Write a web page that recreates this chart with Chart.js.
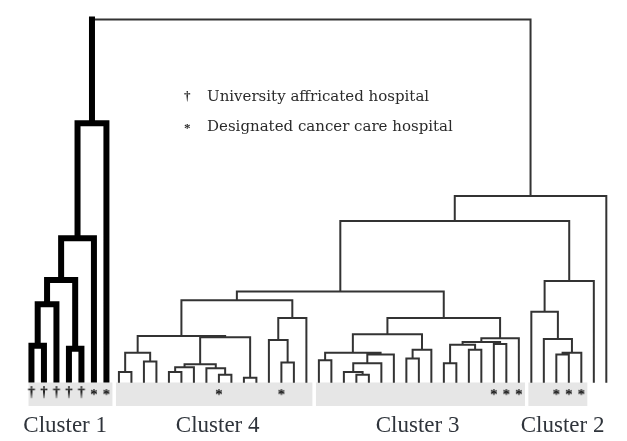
<!DOCTYPE html>
<html>
<head>
<meta charset="utf-8">
<script src="https://cdn.jsdelivr.net/npm/chart.js@4"></script>
<style>
  body { margin: 0; background: #fff; }
</style>
</head>
<body>
<canvas id="dendro" width="627" height="441"></canvas>
<script>
// leaves from left to right and the cluster each hospital ended up in
const leafCluster = [
  1,1,1,1,1,1,1,
  4,4,4,4,4,4,4,4,4,4,4,4,4,4,4,4,
  3,3,3,3,3,3,3,3,3,3,3,3,3,3,3,3,3,
  2,2,2,2,2,2,2
];

// merges, scipy style: ids 0-46 are leaves, 47+ are earlier merges
const mergeLeft   = [0,47,3,48,50,51, 7,9,53,11,56,15,14,57,17,60,55,20,19,65,63,
                     23,26,25,70,71,68,30,74,73,33,35,77,37,79,81,76,67, 42,85,41,40,88,84,90,52];
const mergeRight  = [1,2,4,49,5,6, 8,10,54,12,13,16,58,59,18,61,62,21,64,22,66,
                     24,27,69,28,29,72,31,32,75,34,36,78,38,80,39,82,83, 43,44,86,87,45,89,46,91];
const mergeHeight = [9.9,21.4,9.1,28.1,39.6,71.4, 2.7,5.6,8.0,2.7,4.0,1.9,3.7,4.8,1.1,12.3,12.6,5.3,11.5,17.6,22.5,
                     5.9,1.9,2.7,5.1,7.5,8.0,6.4,8.8,13.1,5.1,8.8,10.2,10.4,11.0,12.0,17.6,24.9, 7.5,8.0,11.8,19.3,27.8,44.4,51.3,100];

// marks under the leaves
const markerLeaf   = [0,1,2,3,4,5,6,15,20,37,38,39,42,43,44];
const markerSymbol = ['†','†','†','†','†','*','*','*','*','*','*','*','*','*','*'];

// grey bands with the cluster names
const clusterNames = ['Cluster 1','Cluster 4','Cluster 3','Cluster 2'];
const clusterFirst = [0,7,23,40];
const clusterLast  = [6,22,39,44];
const clusterLabelAt = [2.7,14.9,30.9,42.5];

const legendSymbols = ['†','*'];
const legendTexts   = ['University affricated hospital','Designated cancer care hospital'];

// work out x and height of every node
const nLeaves = leafCluster.length;
const nodeX = leafCluster.map((c, i) => i);
const nodeH = leafCluster.map(() => 0);
const nodeThick = leafCluster.map(c => c === 1);
const parentOf = [];
mergeLeft.forEach((l, k) => {
  const r = mergeRight[k], id = nLeaves + k;
  nodeX[id] = (nodeX[l] + nodeX[r]) / 2;
  nodeH[id] = mergeHeight[k];
  nodeThick[id] = nodeThick[l] && nodeThick[r];
  parentOf[l] = id;
  parentOf[r] = id;
});

// stems and crossbars, split by a null point
const thickPts = [], thinPts = [];
nodeX.forEach((x, id) => {
  const pts = nodeThick[id] ? thickPts : thinPts;
  if (parentOf[id] !== undefined) {
    const base = id < nLeaves && nodeThick[id] ? 0.6 : 0;
    pts.push({x: x, y: nodeH[id] + base}, {x: x, y: nodeH[parentOf[id]]}, {x: x, y: null});
  }
  if (id >= nLeaves) {
    const k = id - nLeaves;
    pts.push({x: nodeX[mergeLeft[k]], y: nodeH[id]}, {x: nodeX[mergeRight[k]], y: nodeH[id]}, {x: x, y: null});
  }
});

function glyph(ch) {
  const c = document.createElement('canvas');
  c.width = 12; c.height = 16;
  const g = c.getContext('2d');
  g.fillStyle = '#000';
  g.font = 'bold 15px "Liberation Serif"';
  g.textAlign = 'center';
  g.textBaseline = 'middle';
  g.fillText(ch, 6, ch === '*' ? 11 : 8);
  return c;
}

const bandSets = clusterFirst.map((f, i) => ({
  type: 'line',
  data: [{x: f - 0.25, y: -0.2}, {x: clusterLast[i] + 0.5, y: -0.2}],
  borderWidth: 0,
  pointRadius: 0,
  backgroundColor: '#e6e6e6',
  fill: {value: -6.7},
  order: 5
}));

const textPlugin = {
  id: 'texts',
  afterDraw(chart) {
    const ctx = chart.ctx, xs = chart.scales.x, ys = chart.scales.y;
    ctx.save();
    ctx.fillStyle = '#2f343b';
    ctx.font = '23px "Liberation Serif"';
    ctx.textAlign = 'center';
    ctx.textBaseline = 'alphabetic';
    clusterNames.forEach((name, i) => {
      ctx.fillText(name, xs.getPixelForValue(clusterLabelAt[i]), ys.getPixelForValue(-14.0));
    });
    ctx.fillStyle = '#2a2a2a';
    ctx.textAlign = 'left';
    ctx.textBaseline = 'middle';
    legendTexts.forEach((t, i) => {
      const y = 97 + i * 30;
      ctx.font = 'bold 13px "Liberation Serif"';
      ctx.fillText(legendSymbols[i], 184, y + (legendSymbols[i] === '*' ? 2 : 0));
      ctx.font = '15px "DejaVu Serif"';
      ctx.fillText(t, 207, y);
    });
    ctx.restore();
  }
};

new Chart(document.getElementById('dendro'), {
  type: 'line',
  data: {
    datasets: [
      {
        data: thickPts,
        borderColor: '#000',
        borderWidth: 6,
        borderCapStyle: 'square',
        borderJoinStyle: 'miter',
        pointRadius: 0,
        order: 1
      },
      {
        data: thinPts,
        borderColor: '#333',
        borderWidth: 2,
        borderCapStyle: 'square',
        borderJoinStyle: 'miter',
        pointRadius: 0,
        order: 2
      },
      {
        type: 'scatter',
        data: markerLeaf.map(l => ({x: l, y: -2.9})),
        pointStyle: markerSymbol.map(glyph),
        pointRadius: 6,
        showLine: false,
        order: 0
      },
      ...bandSets
    ]
  },
  options: {
    responsive: false,
    animation: false,
    events: [],
    spanGaps: false,
    layout: {padding: 0},
    plugins: {legend: {display: false}, tooltip: {enabled: false}},
    scales: {
      x: {type: 'linear', display: false, min: -1.956, max: 47.095},
      y: {display: false, min: -14.44, max: 103.48}
    }
  },
  plugins: [textPlugin]
});
</script>
</body>
</html>
